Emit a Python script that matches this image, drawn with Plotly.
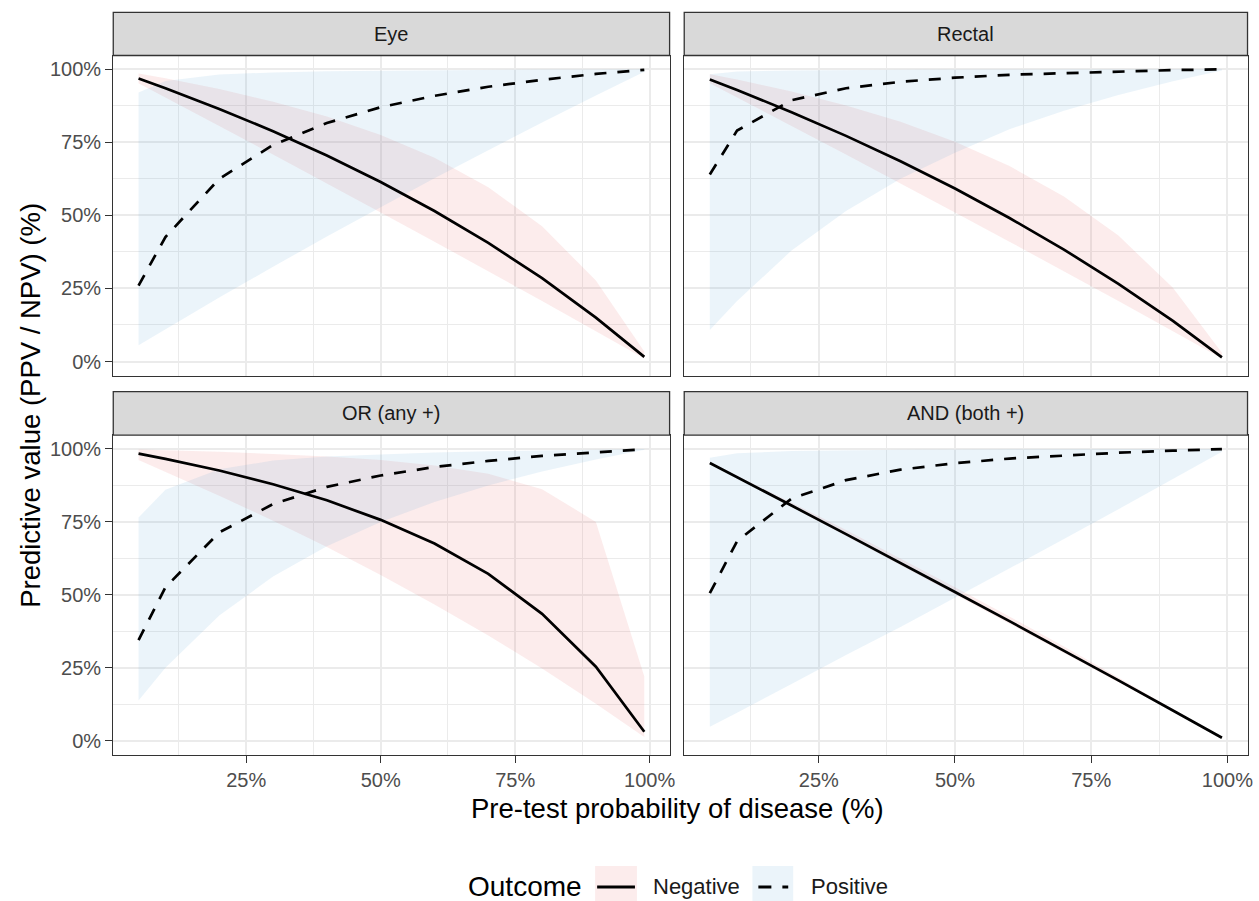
import plotly.graph_objects as go

# ---------------- data (percent) ----------------
pretest = [5, 10, 20, 30, 40, 50, 60, 70, 80, 90, 99]
panels = ["Eye", "Rectal", "OR (any +)", "AND (both +)"]

eye_npv    = [96.8, 93.5, 86.4, 78.8, 70.5, 61.4, 51.5, 40.6, 28.5, 15.0, 1.6]
eye_npv_lo = [95.2, 90.4, 80.6, 70.8, 61.0, 51.0, 41.0, 30.9, 20.7, 10.4, 1.0]
eye_npv_hi = [98.5, 96.9, 93.2, 88.9, 83.8, 77.5, 69.7, 59.6, 46.3, 27.7, 3.4]
eye_ppv    = [26.0, 42.6, 62.5, 74.1, 81.6, 87.0, 90.9, 94.0, 96.4, 98.4, 99.8]
eye_ppv_lo = [5.6, 11.1, 21.9, 32.4, 42.8, 52.8, 62.7, 72.3, 81.8, 91.0, 99.1]
eye_ppv_hi = [92.0, 96.0, 98.2, 98.9, 99.3, 99.5, 99.7, 99.8, 99.9, 99.95, 100.0]

rec_npv    = [96.5, 92.9, 85.3, 77.2, 68.5, 59.2, 49.1, 38.3, 26.6, 13.9, 1.4]
rec_npv_lo = [95.2, 90.4, 80.6, 70.8, 61.0, 51.0, 41.0, 30.9, 20.7, 10.4, 1.0]
rec_npv_hi = [98.3, 96.5, 92.4, 87.6, 82.0, 75.2, 66.9, 56.5, 43.1, 25.2, 3.0]
rec_ppv    = [64.0, 79.0, 89.4, 93.5, 95.7, 97.1, 98.1, 98.7, 99.3, 99.7, 99.97]
rec_ppv_lo = [10.8, 20.7, 38.0, 51.5, 62.5, 71.4, 79.5, 85.8, 91.2, 95.9, 99.6]
rec_ppv_hi = [98.3, 99.2, 99.6, 99.8, 99.85, 99.9, 99.93, 99.95, 99.97, 99.99, 100.0]

or_npv    = [98.4, 96.6, 92.6, 87.9, 82.4, 75.7, 67.6, 57.2, 43.5, 25.4, 3.1]
or_npv_lo = [96.2, 92.2, 84.0, 75.4, 66.4, 56.8, 46.7, 36.1, 24.8, 12.7, 1.3]
or_npv_hi = [99.8, 99.6, 99.0, 98.3, 97.4, 96.2, 94.3, 91.5, 86.2, 75.0, 22.0]
or_ppv    = [34.5, 52.6, 71.4, 81.1, 87.0, 90.9, 93.8, 95.9, 97.6, 98.9, 99.9]
or_ppv_lo = [13.8, 25.0, 42.9, 56.3, 66.7, 75.0, 81.8, 87.5, 92.3, 96.4, 99.7]
or_ppv_hi = [76.5, 86.0, 93.0, 96.0, 97.4, 98.2, 98.8, 99.2, 99.5, 99.8, 100.0]

and_npv    = [95.2, 90.4, 80.6, 70.8, 61.0, 51.0, 41.0, 30.9, 20.7, 10.4, 1.05]
and_npv_lo = [95.0, 90.1, 80.2, 70.2, 60.2, 50.3, 40.2, 30.2, 20.2, 10.1, 1.0]
and_npv_hi = [95.5, 90.9, 81.6, 72.2, 62.5, 52.6, 42.6, 32.3, 21.7, 11.0, 1.1]
and_ppv    = [50.6, 68.4, 83.0, 89.3, 92.9, 95.1, 96.7, 97.8, 98.7, 99.4, 99.95]
and_ppv_lo = [4.8, 9.6, 19.5, 29.4, 39.0, 49.0, 59.0, 69.1, 79.3, 89.6, 99.0]
and_ppv_hi = [97.0, 98.5, 99.3, 99.6, 99.7, 99.8, 99.85, 99.9, 99.93, 99.96, 100.0]

x_ticks = [25, 50, 75, 100]
x_ticktext = ["25%", "50%", "75%", "100%"]
y_ticks = [0, 25, 50, 75, 100]
y_ticktext = ["0%", "25%", "50%", "75%", "100%"]

series = [
    (eye_npv, eye_npv_lo, eye_npv_hi, eye_ppv, eye_ppv_lo, eye_ppv_hi),
    (rec_npv, rec_npv_lo, rec_npv_hi, rec_ppv, rec_ppv_lo, rec_ppv_hi),
    (or_npv, or_npv_lo, or_npv_hi, or_ppv, or_ppv_lo, or_ppv_hi),
    (and_npv, and_npv_lo, and_npv_hi, and_ppv, and_ppv_lo, and_ppv_hi),
]

# ---------------- styling / layout ----------------
W, H = 1259, 901
FONT = "Liberation Sans, Arial, Helvetica, sans-serif"
NEG_FILL = "rgba(226,70,70,0.10)"
POS_FILL = "rgba(70,155,205,0.11)"
GRID = "#EBEBEB"
DARK = "#333333"

def fx(p):
    return p / W

def fy(p):
    return 1 - p / H

cols = [(113.8, 672.8), (687.5, 1253.5)]
rows = [(55.5, 375.7), (435.2, 755.0)]
strips = [(12.3, 55.5), (391.7, 435.2)]

fig = go.Figure()
layout_axes = {}
shapes = []
annotations = []

for i, name in enumerate(panels):
    r, c = divmod(i, 2)
    sfx = "" if i == 0 else str(i + 1)
    xa, ya = "x" + sfx, "y" + sfx
    npv, npv_lo, npv_hi, ppv, ppv_lo, ppv_hi = series[i]

    for lo, hi, col in ((npv_lo, npv_hi, NEG_FILL), (ppv_lo, ppv_hi, POS_FILL)):
        fig.add_trace(go.Scatter(x=pretest, y=lo, xaxis=xa, yaxis=ya, mode="lines",
                                 line=dict(width=0, color=col), showlegend=False,
                                 hoverinfo="skip"))
        fig.add_trace(go.Scatter(x=pretest, y=hi, xaxis=xa, yaxis=ya, mode="lines",
                                 line=dict(width=0, color=col), fill="tonexty",
                                 fillcolor=col, showlegend=False, hoverinfo="skip"))
    fig.add_trace(go.Scatter(x=pretest, y=npv, xaxis=xa, yaxis=ya, mode="lines",
                             line=dict(color="black", width=2.7), showlegend=False,
                             name="Negative"))
    fig.add_trace(go.Scatter(x=pretest, y=ppv, xaxis=xa, yaxis=ya, mode="lines",
                             line=dict(color="black", width=2.7, dash="12px,11px"),
                             showlegend=False, name="Positive"))

    x0, x1 = cols[c]
    y0, y1 = rows[r]
    bottom = r == 1
    left = c == 0
    common = dict(
        ticks="", ticklen=7, tickwidth=1.3, tickcolor=DARK,
        tickfont=dict(family=FONT, size=20, color="#4D4D4D"),
        showgrid=True, gridcolor=GRID, gridwidth=1.7, zeroline=False,
        showline=True, mirror=True, linecolor=DARK, linewidth=1.3,
        minor=dict(tickvals=[12.5, 37.5, 62.5, 87.5], showgrid=True,
                   gridcolor=GRID, gridwidth=1.0, ticks=""),
    )
    xa_d = dict(common)
    xa_d.update(domain=[fx(x0), fx(x1)], anchor=ya, range=[0.3, 103.7],
                tickvals=x_ticks, ticktext=x_ticktext, showticklabels=bottom,
                ticks="outside" if bottom else "")
    ya_d = dict(common)
    ya_d.update(domain=[fy(y1), fy(y0)], anchor=xa, range=[-4.85, 104.7],
                tickvals=y_ticks, ticktext=y_ticktext, showticklabels=left,
                ticks="outside" if left else "")
    layout_axes["xaxis" + sfx] = xa_d
    layout_axes["yaxis" + sfx] = ya_d

    s0, s1 = strips[r]
    shapes.append(dict(type="rect", xref="paper", yref="paper",
                       x0=fx(x0), x1=fx(x1), y0=fy(s1), y1=fy(s0),
                       fillcolor="#D9D9D9", line=dict(color=DARK, width=1.3),
                       layer="above"))
    annotations.append(dict(text=name, xref="paper", yref="paper",
                            x=fx((x0 + x1) / 2), y=fy((s0 + s1) / 2),
                            showarrow=False, xanchor="center", yanchor="middle",
                            font=dict(family=FONT, size=20, color="#1A1A1A")))

# axis titles
annotations.append(dict(text="Pre-test probability of disease (%)", xref="paper", yref="paper",
                        x=fx(681), y=fy(808), showarrow=False, xanchor="center",
                        yanchor="middle", font=dict(family=FONT, size=27.5, color="black")))
annotations.append(dict(text="Predictive value (PPV / NPV) (%)", xref="paper", yref="paper",
                        x=fx(30), y=fy(405), showarrow=False, xanchor="center",
                        yanchor="middle", textangle=-90,
                        font=dict(family=FONT, size=27.5, color="black")))

# legend (drawn manually to mimic ggplot keys)
annotations.append(dict(text="Outcome", xref="paper", yref="paper", x=fx(528), y=fy(886),
                        showarrow=False, xanchor="center", yanchor="middle",
                        font=dict(family=FONT, size=28, color="black")))
shapes.append(dict(type="rect", xref="paper", yref="paper", x0=fx(598), x1=fx(640),
                   y0=fy(901), y1=fy(866), fillcolor=NEG_FILL, line=dict(width=0)))
shapes.append(dict(type="line", xref="paper", yref="paper", x0=fx(600), x1=fx(638),
                   y0=fy(887), y1=fy(887), line=dict(color="black", width=2.9)))
annotations.append(dict(text="Negative", xref="paper", yref="paper", x=fx(654), y=fy(886),
                        showarrow=False, xanchor="left", yanchor="middle",
                        font=dict(family=FONT, size=22, color="#1A1A1A")))
shapes.append(dict(type="rect", xref="paper", yref="paper", x0=fx(756), x1=fx(797),
                   y0=fy(901), y1=fy(866), fillcolor=POS_FILL, line=dict(width=0)))
shapes.append(dict(type="line", xref="paper", yref="paper", x0=fx(762), x1=fx(792),
                   y0=fy(887), y1=fy(887),
                   line=dict(color="black", width=2.9, dash="13px,11px")))
annotations.append(dict(text="Positive", xref="paper", yref="paper", x=fx(813), y=fy(886),
                        showarrow=False, xanchor="left", yanchor="middle",
                        font=dict(family=FONT, size=22, color="#1A1A1A")))

fig.update_layout(
    width=W, height=H, margin=dict(l=0, r=0, t=0, b=0),
    paper_bgcolor="white", plot_bgcolor="white",
    showlegend=False, shapes=shapes, annotations=annotations,
    font=dict(family=FONT),
    **layout_axes,
)

fig.write_html("out.html", config={"displayModeBar": False},
               post_script="document.body.style.margin='0';document.body.style.overflow='hidden';")
